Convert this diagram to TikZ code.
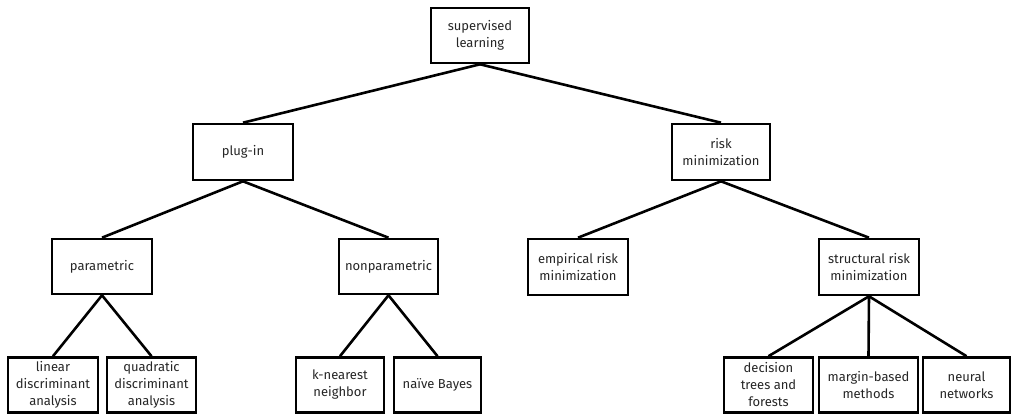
\documentclass[tikz,border=0pt]{standalone}
\usepackage{fontspec}
\setmainfont{Fira Sans}
\begin{document}
\begin{tikzpicture}[x=1pt,y=-1pt,
  box/.style={draw,line width=2.6pt,fill=white,align=center,inner sep=0pt,
    font=\fontsize{13}{17}\selectfont\color{black!85}},
  edge/.style={line width=2.6pt}]
\useasboundingbox (0,0) rectangle (1013,414);
\node[box,minimum width=98pt,minimum height=55pt] (root) at (480,35.5) {supervised\\learning};
\node[box,minimum width=100pt,minimum height=56pt] (plug) at (243,152) {plug-in};
\node[box,minimum width=98pt,minimum height=56pt] (risk) at (721,152) {risk\\minimization};
\node[box,minimum width=100pt,minimum height=55pt] (param) at (102,266.5) {parametric};
\node[box,minimum width=99pt,minimum height=55pt] (nonparam) at (388.5,266.5) {nonparametric};
\node[box,minimum width=100pt,minimum height=56pt] (emp) at (578,267) {empirical risk\\minimization};
\node[box,minimum width=100pt,minimum height=56pt] (struct) at (869,267) {structural risk\\minimization};
\node[box,minimum width=90pt,minimum height=55pt] (lda) at (53,385) {linear\\discriminant\\analysis};
\node[box,minimum width=89pt,minimum height=55pt] (qda) at (151.5,385) {quadratic\\discriminant\\analysis};
\node[box,minimum width=88pt,minimum height=55pt] (knn) at (340,385) {k-nearest\\neighbor};
\node[box,minimum width=87pt,minimum height=55pt] (nb) at (437.5,385) {naïve Bayes};
\node[box,minimum width=89pt,minimum height=55pt] (dt) at (768.5,385) {decision\\trees and\\forests};
\node[box,minimum width=99pt,minimum height=55pt] (mb) at (868.5,385) {margin-based\\methods};
\node[box,minimum width=87pt,minimum height=55pt] (nn) at (966.5,385) {neural\\networks};
\foreach \a/\b in {root/plug,root/risk,plug/param,plug/nonparam,risk/emp,risk/struct,
  param/lda,param/qda,nonparam/knn,nonparam/nb,struct/dt,struct/mb,struct/nn}
  \draw[edge] (\a.south) -- (\b.north);
\end{tikzpicture}
\end{document}
